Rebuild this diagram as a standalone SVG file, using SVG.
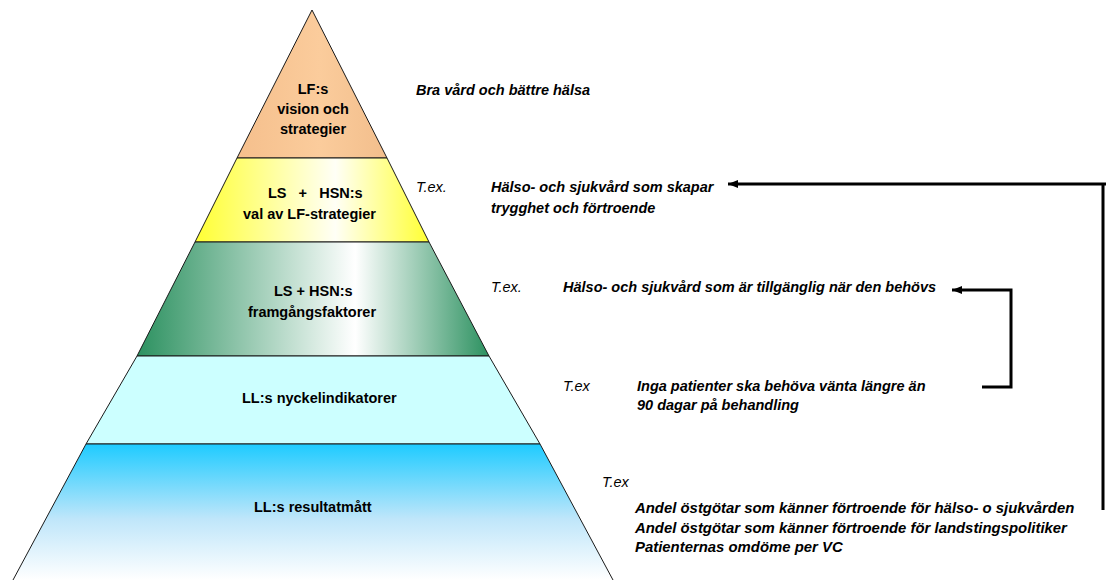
<svg xmlns="http://www.w3.org/2000/svg" width="1112" height="580" viewBox="0 0 1112 580">
  <style>
    .tier { stroke: #1a1a1a; stroke-width: 1; }
    .lbl { font-family: "Liberation Sans", Arial, sans-serif; font-size: 14.5px; font-weight: bold; fill: #000; }
    .mid { text-anchor: middle; }
    .ex { font-family: "Liberation Sans", Arial, sans-serif; font-size: 14.5px; font-style: italic; fill: #000; }
    .desc { font-family: "Liberation Sans", Arial, sans-serif; font-size: 14.5px; font-style: italic; font-weight: bold; fill: #000; }
    .big { font-size: 14.9px; }
    .conn { fill: none; stroke: #000; stroke-width: 3; stroke-linecap: butt; stroke-linejoin: miter; }
  </style>
  <defs>
    <linearGradient id="gPeach" x1="0" y1="0" x2="1" y2="0">
      <stop offset="0" stop-color="#F5BF8C"/>
      <stop offset="0.55" stop-color="#FBCC9C"/>
      <stop offset="1" stop-color="#F2BE8C"/>
    </linearGradient>
    <linearGradient id="gYellow" x1="0" y1="0" x2="1" y2="0">
      <stop offset="0" stop-color="#FFFF33"/>
      <stop offset="0.6" stop-color="#FFFFF6"/>
      <stop offset="1" stop-color="#FFFF33"/>
    </linearGradient>
    <linearGradient id="gGreen" x1="0" y1="0" x2="1" y2="0">
      <stop offset="0" stop-color="#2C9160"/>
      <stop offset="0.62" stop-color="#FFFFFF"/>
      <stop offset="1" stop-color="#2C9160"/>
    </linearGradient>
    <linearGradient id="gBlue" x1="0" y1="0" x2="0" y2="1">
      <stop offset="0" stop-color="#1ECBFF"/>
      <stop offset="0.55" stop-color="#BFE6FA"/>
      <stop offset="1" stop-color="#FFFFFF"/>
    </linearGradient>
    <marker id="arr" markerUnits="userSpaceOnUse" markerWidth="12" markerHeight="10" refX="10" refY="4" orient="auto">
      <path d="M0,0 L10,4 L0,8 z" fill="#000"/>
    </marker>
  </defs>

  <g id="tier-vision">
    <polygon class="tier" points="312,10 387,158 237,158" fill="url(#gPeach)"/>
    <text class="lbl mid" x="313" y="94">LF:s</text>
    <text class="lbl mid" x="313" y="114">vision och</text>
    <text class="lbl mid" x="313" y="134">strategier</text>
  </g>

  <g id="tier-strategier">
    <polygon class="tier" points="237,158 387,158 429,242 195,242" fill="url(#gYellow)"/>
    <text class="lbl" x="268" y="198" xml:space="preserve">LS   +   HSN:s</text>
    <text class="lbl" x="243" y="219">val av LF-strategier</text>
  </g>

  <g id="tier-framgang">
    <polygon class="tier" points="195,242 429,242 489,356 137,356" fill="url(#gGreen)"/>
    <text class="lbl" x="274" y="296">LS + HSN:s</text>
    <text class="lbl mid" x="312" y="317">framgångsfaktorer</text>
  </g>

  <g id="tier-nyckel">
    <polygon class="tier" points="137,356 489,356 540,444 86,444" fill="#CCFFFF"/>
    <text class="lbl" x="242" y="403">LL:s nyckelindikatorer</text>
  </g>

  <g id="tier-resultat">
    <polygon points="86,444 540,444 613,580 13,580" fill="url(#gBlue)"/>
    <path class="tier" d="M13,580 L86,444 L540,444 L613,580" fill="none"/>
    <text class="lbl" x="254" y="512">LL:s resultatmått</text>
  </g>

  <g id="desc-vision">
    <text class="desc" x="416" y="95">Bra vård och bättre hälsa</text>
  </g>

  <g id="desc-strategier">
    <text class="ex" x="416" y="192">T.ex.</text>
    <text class="desc" x="491" y="192">Hälso- och sjukvård som skapar</text>
    <text class="desc" x="491" y="213">trygghet och förtroende</text>
  </g>

  <g id="desc-framgang">
    <text class="ex" x="491" y="292">T.ex.</text>
    <text class="desc" x="563" y="292">Hälso- och sjukvård som är tillgänglig när den behövs</text>
  </g>

  <g id="desc-nyckel">
    <text class="ex" x="563" y="391">T.ex</text>
    <text class="desc" x="637" y="391">Inga patienter ska behöva vänta längre än</text>
    <text class="desc" x="637" y="410">90 dagar på behandling</text>
  </g>

  <g id="desc-resultat">
    <text class="ex" x="602" y="487">T.ex</text>
    <text class="desc big" x="635" y="513">Andel östgötar som känner förtroende för hälso- o sjukvården</text>
    <text class="desc big" x="635" y="533">Andel östgötar som känner förtroende för landstingspolitiker</text>
    <text class="desc big" x="635" y="552">Patienternas omdöme per VC</text>
  </g>

  <g id="connectors">
    <path class="conn" d="M1103,510 V184 H1106 M1106,184 H728" marker-end="url(#arr)"/>
    <path class="conn" d="M982,387 H1011 V290 H952" marker-end="url(#arr)"/>
  </g>
</svg>
